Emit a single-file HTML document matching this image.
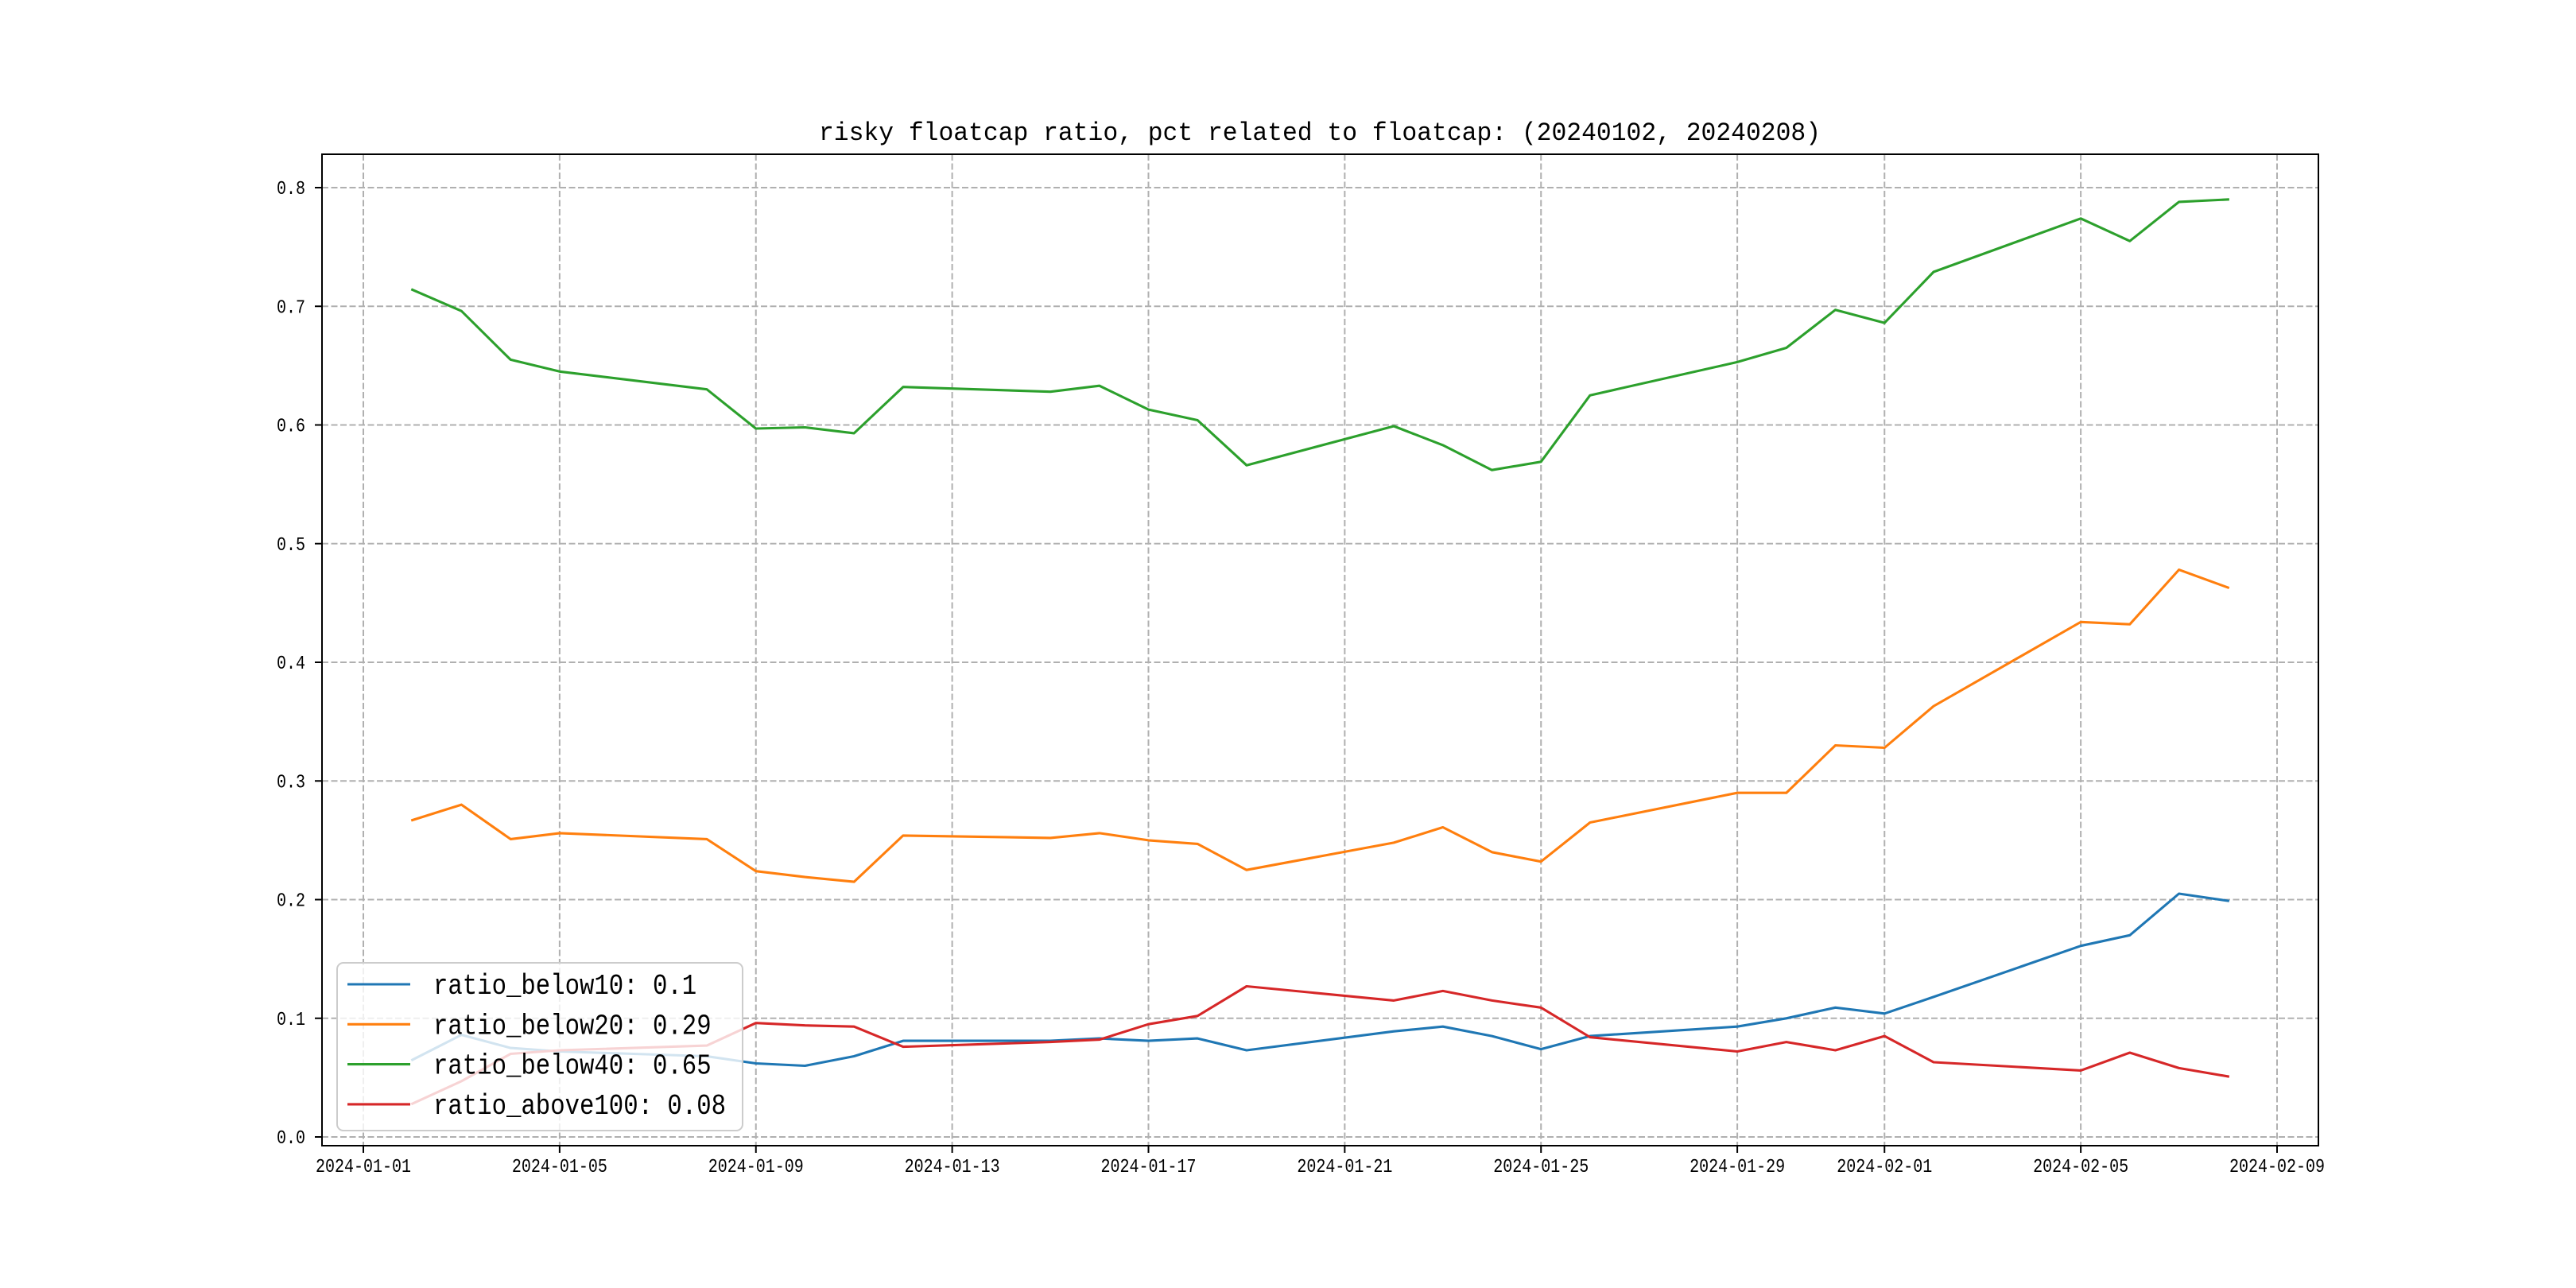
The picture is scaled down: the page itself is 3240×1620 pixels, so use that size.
<!DOCTYPE html>
<html><head><meta charset="utf-8"><style>html,body{margin:0;padding:0;background:#fff}svg{display:block}</style></head>
<body>
<svg id="chart" width="3240" height="1620" viewBox="0 0 3240 1620" xmlns="http://www.w3.org/2000/svg" font-family="'WenQuanYi Zen Hei','Liberation Mono',monospace"></svg>
<script>
const dates = ["2024-01-02","2024-01-03","2024-01-04","2024-01-05","2024-01-08","2024-01-09","2024-01-10","2024-01-11","2024-01-12","2024-01-15","2024-01-16","2024-01-17","2024-01-18","2024-01-19","2024-01-22","2024-01-23","2024-01-24","2024-01-25","2024-01-26","2024-01-29","2024-01-30","2024-01-31","2024-02-01","2024-02-02","2024-02-05","2024-02-06","2024-02-07","2024-02-08"];
const below10 = [0.065,0.086,0.075,0.072,0.068,0.062,0.060,0.068,0.081,0.081,0.083,0.081,0.083,0.073,0.089,0.093,0.085,0.074,0.085,0.093,0.100,0.109,0.104,0.118,0.161,0.170,0.205,0.199];
const below20 = [0.267,0.280,0.251,0.256,0.251,0.224,0.219,0.215,0.254,0.252,0.256,0.250,0.247,0.225,0.248,0.261,0.240,0.232,0.265,0.290,0.290,0.330,0.328,0.363,0.434,0.432,0.478,0.463];
const below40 = [0.714,0.696,0.655,0.645,0.630,0.597,0.598,0.593,0.632,0.628,0.633,0.613,0.604,0.566,0.599,0.583,0.562,0.569,0.625,0.653,0.665,0.697,0.686,0.729,0.774,0.755,0.788,0.790];
const above100 = [0.028,0.047,0.070,0.073,0.077,0.096,0.094,0.093,0.076,0.080,0.082,0.095,0.102,0.127,0.115,0.123,0.115,0.109,0.084,0.072,0.080,0.073,0.085,0.063,0.056,0.071,0.058,0.051];
const xTicks = ["2024-01-01","2024-01-05","2024-01-09","2024-01-13","2024-01-17","2024-01-21","2024-01-25","2024-01-29","2024-02-01","2024-02-05","2024-02-09"];
const yTicks = [0.0,0.1,0.2,0.3,0.4,0.5,0.6,0.7,0.8];
const yTickLabels = ["0.0","0.1","0.2","0.3","0.4","0.5","0.6","0.7","0.8"];
const legendLabels = ["ratio_below10: 0.1","ratio_below20: 0.29","ratio_below40: 0.65","ratio_above100: 0.08"];

const NS = "http://www.w3.org/2000/svg";
const svg = document.getElementById("chart");
const L = 405, R = 2916, T = 194, B = 1441;
const day0 = Date.UTC(2024,0,1), DAY = 86400000;
function dnum(s){const p=s.split("-");return (Date.UTC(+p[0],+p[1]-1,+p[2])-day0)/DAY;}
function xs(s){return 457 + dnum(s)*(2864-457)/39;}
function ys(v){return 1430 - v*(1430-236)/0.8;}
function mk(tag, attrs, parent){const e=document.createElementNS(NS,tag);for(const k in attrs)e.setAttribute(k,attrs[k]);(parent||svg).appendChild(e);return e;}

// grid
const grid = mk("g",{});


xTicks.forEach(t=>{const x=xs(t);mk("line",{x1:x,x2:x,y1:T,y2:B,stroke:"#b0b0b0","stroke-width":2,"stroke-dasharray":"8 3.5"},grid);});
yTicks.forEach(v=>{const y=ys(v);mk("line",{x1:L,x2:R,y1:y,y2:y,stroke:"#b0b0b0","stroke-width":2,"stroke-dasharray":"8 3.5"},grid);});

// series
const series = [[below10,"#1f77b4","series-below10"],[below20,"#ff7f0e","series-below20"],[below40,"#2ca02c","series-below40"],[above100,"#d62728","series-above100"]];
series.forEach(s=>{
  const d = s[0].map((v,i)=>(i?"L":"M")+xs(dates[i]).toFixed(1)+","+ys(v).toFixed(1)).join(" ");
  const p = mk("path",{d:d,fill:"none",stroke:s[1],"stroke-width":3.1,"stroke-linejoin":"round","stroke-linecap":"square"});
  
  
});

// axes frame
const frame = mk("rect",{x:L,y:T,width:R-L,height:B-T,fill:"none",stroke:"#000","stroke-width":2});



// x ticks
const xax = mk("g",{});


xTicks.forEach(t=>{const x=xs(t);
  mk("line",{x1:x,x2:x,y1:B,y2:B+9,stroke:"#000","stroke-width":2},xax);
  const tx=mk("text",{x:x,y:1474,"text-anchor":"middle","font-size":24,textLength:120,lengthAdjust:"spacingAndGlyphs"},xax);
  tx.textContent=t;
  
  
});
// y ticks
const yax = mk("g",{});


yTicks.forEach((v,i)=>{const y=ys(v);
  mk("line",{x1:L-9,x2:L,y1:y,y2:y,stroke:"#000","stroke-width":2},yax);
  const tx=mk("text",{x:384,y:y+8,"text-anchor":"end","font-size":24,textLength:36,lengthAdjust:"spacingAndGlyphs"},yax);
  tx.textContent=yTickLabels[i];
  
  
});

// title
const title = mk("text",{x:1660,y:176,"text-anchor":"middle","font-size":32,textLength:1260,lengthAdjust:"spacingAndGlyphs"});
title.textContent="risky floatcap ratio, pct related to floatcap: (20240102, 20240208)";



// legend
const lg = mk("g",{});


mk("rect",{x:424,y:1211,width:510,height:211,rx:8,fill:"#fff","fill-opacity":0.8,stroke:"#cccccc","stroke-width":2},lg);
legendLabels.forEach((lab,i)=>{
  const y=1238+i*50.3;
  const e=mk("g",{},lg);
  
  
  mk("line",{x1:437,x2:516,y1:y,y2:y,stroke:series[i][1],"stroke-width":3.1},e);
  const tx=mk("text",{x:545,y:y+12,"font-size":36,textLength:lab.length*18.4,lengthAdjust:"spacingAndGlyphs"},e);
  tx.textContent=lab;
});
</script>
</body></html>
